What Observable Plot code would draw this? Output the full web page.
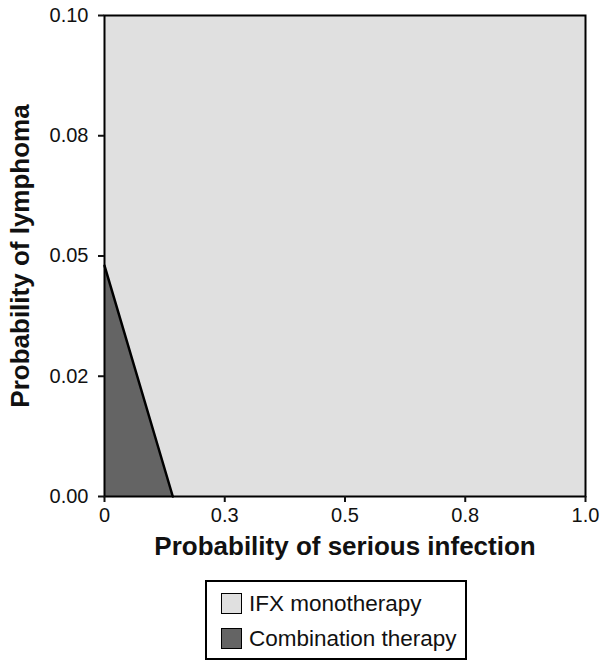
<!DOCTYPE html>
<html>
<head>
<meta charset="utf-8">
<script src="https://cdn.jsdelivr.net/npm/d3@7"></script>
<script src="https://cdn.jsdelivr.net/npm/@observablehq/plot@0.6"></script>
<style>
  body { margin: 0; background: #fff; font-family: "Liberation Sans", Arial, sans-serif; }
  #chart { width: 609px; }
  .legend { position: absolute; left: 205px; top: 580px; width: 258px; height: 76px; border: 2px solid #000; box-sizing: content-box; }
  .legend .item { display: flex; align-items: center; font-size: 22.5px; color: #111; height: 35px; padding-left: 14px; }
  .legend .item:first-child { margin-top: 4px; }
  .legend .sw { width: 19px; height: 19px; border: 1.5px solid #000; margin-right: 7px; }
</style>
</head>
<body>
<div id="chart"></div>
<script>
const seriesNames = ["IFX monotherapy", "Combination therapy"];
const seriesColors = ["#e0e0e0", "#646464"];
const xDomain = [0, 1];
const yDomain = [0, 0.1];
const xTicks = [0, 0.25, 0.5, 0.75, 1.0];
const xTickLabels = ["0", "0.3", "0.5", "0.8", "1.0"];
const yTicks = [0, 0.025, 0.05, 0.075, 0.1];
const yTickLabels = ["0.00", "0.02", "0.05", "0.08", "0.10"];
// threshold boundary between the two preferred strategies
const boundaryX = [0, 0.142];
const boundaryY = [0.048, 0];

const boundary = boundaryX.map((x, i) => ({x, y: boundaryY[i]}));
const full = [{x1: xDomain[0], x2: xDomain[1], y1: yDomain[0], y2: yDomain[1]}];
const xTickData = xTicks.map((v, i) => ({v, label: xTickLabels[i]}));
const yTickData = yTicks.map((v, i) => ({v, label: yTickLabels[i]}));

const chart = Plot.plot({
  width: 609,
  height: 570,
  marginLeft: 104,
  marginRight: 24,
  marginTop: 15,
  marginBottom: 74,
  style: {fontFamily: "Liberation Sans, Arial, sans-serif", fontSize: "20px", color: "#111", background: "#fff"},
  x: {domain: xDomain, label: null},
  y: {domain: yDomain, label: null},
  marks: [
    Plot.rect(full, {x1: "x1", x2: "x2", y1: "y1", y2: "y2", fill: seriesColors[0]}),
    Plot.areaY(boundary, {x: "x", y1: 0, y2: "y", fill: seriesColors[1]}),
    Plot.line(boundary, {x: "x", y: "y", stroke: "#000", strokeWidth: 2.5}),
    Plot.frame({stroke: "#000", strokeWidth: 2}),
    Plot.axisX({ticks: xTicks, tickFormat: () => "", tickSize: 6, strokeWidth: 2, label: null}),
    Plot.axisY({ticks: yTicks, tickFormat: () => "", tickSize: 6, strokeWidth: 2, label: null}),
    Plot.text(xTickData, {x: "v", text: "label", frameAnchor: "bottom", dy: 25, fontSize: 20, fill: "#111"}),
    Plot.text(yTickData, {y: "v", text: "label", frameAnchor: "left", textAnchor: "end", dx: -16, fontSize: 20, fill: "#111"}),
    Plot.text(["Probability of serious infection"], {frameAnchor: "bottom", dy: 58, fontSize: 26, fontWeight: "bold", fill: "#111"}),
    Plot.text(["Probability of lymphoma"], {frameAnchor: "left", dx: -84, rotate: -90, textAnchor: "middle", fontSize: 26, fontWeight: "bold", fill: "#111"})
  ]
});
document.getElementById("chart").append(chart);

const legend = document.createElement("div");
legend.className = "legend";
seriesNames.forEach((name, i) => {
  const item = document.createElement("div");
  item.className = "item";
  const sw = document.createElement("span");
  sw.className = "sw";
  sw.style.background = seriesColors[i];
  item.append(sw, document.createTextNode(name));
  legend.append(item);
});
document.body.append(legend);
</script>
</body>
</html>
